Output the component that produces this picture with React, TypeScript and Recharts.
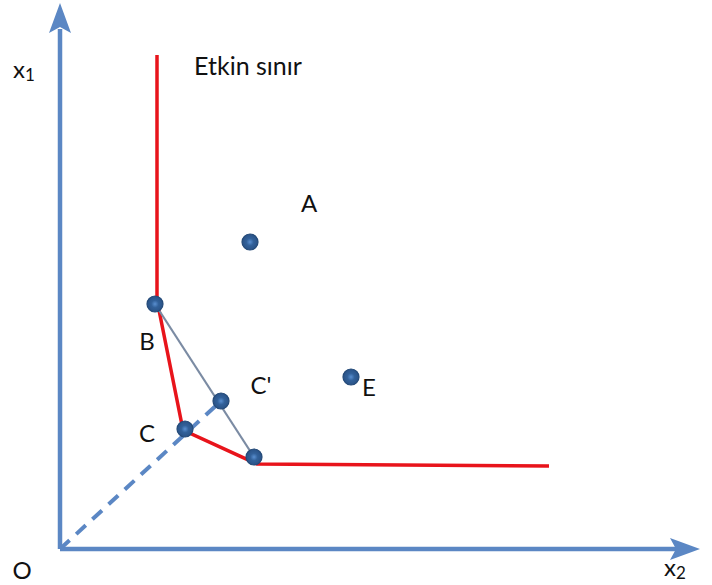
import React, { useEffect } from "react";
import { ComposedChart, Line, Scatter, XAxis, YAxis } from "recharts";

// efficient frontier (isoquant) vertices, x2 horizontal, x1 vertical
const frontier = [
  { x: 9.7, y: 49.4 },
  { x: 9.7, y: 24.9 },
  { x: 12.3, y: 11.9 },
  { x: 19.7, y: 8.5 },
  { x: 48.9, y: 8.3 },
];

// straight chord between B and the lower frontier unit
const chord = [
  { x: 9.5, y: 24.5 },
  { x: 19.4, y: 9.2 },
];

// ray from the origin through C to its projection C'
const ray = [
  { x: 0, y: 0 },
  { x: 16.1, y: 14.8 },
];

const units = [
  { name: "A", x: 19.0, y: 30.7 },
  { name: "B", x: 9.5, y: 24.5 },
  { name: "C", x: 12.5, y: 12.0 },
  { name: "C'", x: 16.1, y: 14.8 },
  { name: "D", x: 19.4, y: 9.2 },
  { name: "E", x: 29.1, y: 17.2 },
];

const labels = [
  { text: "A", sub: "", x: 24.9, y: 34.7, anchor: "middle" },
  { text: "B", sub: "", x: 8.7, y: 20.9, anchor: "middle" },
  { text: "C", sub: "", x: 8.7, y: 11.7, anchor: "middle" },
  { text: "C'", sub: "", x: 20.1, y: 16.5, anchor: "middle" },
  { text: "E", sub: "", x: 30.9, y: 16.3, anchor: "middle" },
  { text: "Etkin sınır", sub: "", x: 18.8, y: 48.4, anchor: "middle" },
  { text: "x", sub: "1", x: -4.7, y: 48.1, anchor: "start" },
  { text: "x", sub: "2", x: 60.4, y: -1.7, anchor: "start" },
  { text: "O", sub: "", x: -3.8, y: -2.0, anchor: "middle" },
];

const xAxisLine = [
  { x: 0, y: 0 },
  { x: 62, y: 0 },
];
const yAxisLine = [
  { x: 0, y: 0 },
  { x: 0, y: 52 },
];
const arrowTips = [
  { dir: "up", x: 0, y: 54.6 },
  { dir: "right", x: 64, y: 0 },
];

const AXIS_BLUE = "#5b87c4";
const FONT = "Lato, 'Open Sans', sans-serif";

const Ball = (props: any) => {
  const { cx, cy } = props;
  return (
    <circle cx={cx} cy={cy} r={8} fill="url(#ballFill)" stroke="#244a78" strokeWidth={1.2} />
  );
};

const Arrow = (props: any) => {
  const { cx, cy, payload } = props;
  const pts =
    payload.dir === "up"
      ? `${cx},${cy} ${cx - 11},${cy + 30} ${cx},${cy + 24} ${cx + 11},${cy + 30}`
      : `${cx},${cy} ${cx - 30},${cy - 11} ${cx - 24},${cy} ${cx - 30},${cy + 11}`;
  return <polygon points={pts} fill={AXIS_BLUE} />;
};

const Label = (props: any) => {
  const { cx, cy, payload } = props;
  return (
    <text
      x={cx}
      y={cy}
      textAnchor={payload.anchor}
      dominantBaseline="central"
      fontFamily={FONT}
      fontSize={payload.text.length > 3 ? 25 : 24}
      fill="#111"
    >
      {payload.text}
      {payload.sub && (
        <tspan fontSize={17} dy={6}>
          {payload.sub}
        </tspan>
      )}
    </text>
  );
};

export default function App() {
  useEffect(() => {
    document.body.style.margin = "0";
  }, []);

  return (
    <div style={{ width: 712, height: 585, background: "#fff" }}>
      <ComposedChart width={712} height={585} margin={{ top: 0, right: 0, bottom: 0, left: 0 }}>
        <defs>
          <radialGradient id="ballFill" cx="50%" cy="50%" r="50%">
            <stop offset="0%" stopColor="#5a8fd0" />
            <stop offset="45%" stopColor="#32619a" />
            <stop offset="100%" stopColor="#2a5286" />
          </radialGradient>
        </defs>
        <XAxis type="number" dataKey="x" domain={[-6, 65.2]} hide allowDataOverflow />
        <YAxis type="number" dataKey="y" domain={[-3.6, 54.9]} hide allowDataOverflow />

        <Line data={xAxisLine} dataKey="y" stroke={AXIS_BLUE} strokeWidth={4.5} dot={false} isAnimationActive={false} />
        <Line data={yAxisLine} dataKey="y" stroke={AXIS_BLUE} strokeWidth={4.5} dot={false} isAnimationActive={false} />
        <Scatter data={arrowTips} dataKey="y" shape={Arrow} isAnimationActive={false} />

        <Line data={frontier} dataKey="y" stroke="#e8141b" strokeWidth={3.5} dot={false} isAnimationActive={false} />
        <Line data={ray} dataKey="y" stroke={AXIS_BLUE} strokeWidth={4} strokeDasharray="13 9" dot={false} isAnimationActive={false} />
        <Scatter data={units} dataKey="y" shape={Ball} isAnimationActive={false} />
        <Line data={chord} dataKey="y" stroke="#7b8ba3" strokeWidth={2.2} dot={false} isAnimationActive={false} />

        <Scatter data={labels} dataKey="y" shape={Label} isAnimationActive={false} />
      </ComposedChart>
    </div>
  );
}
